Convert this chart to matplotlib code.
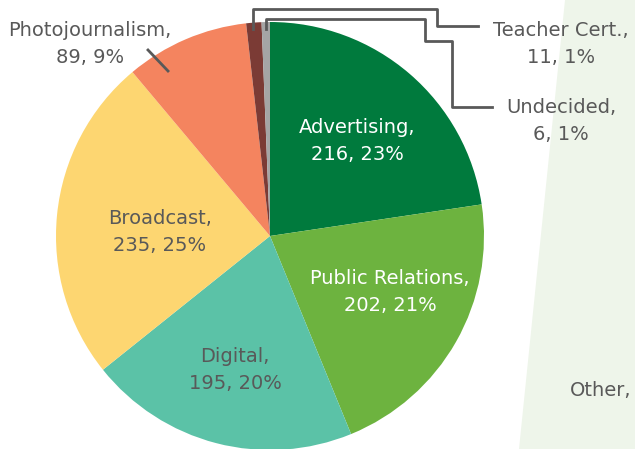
import matplotlib
matplotlib.use('Agg')
import matplotlib.pyplot as plt
from matplotlib.patches import Polygon

W, H = 635, 449

majors = ['Advertising', 'Public Relations', 'Digital', 'Broadcast',
          'Photojournalism', 'Teacher Cert.', 'Undecided']
counts = [216, 202, 195, 235, 89, 11, 6]
colors = ['#007A3D', '#6DB33F', '#5BC2A7', '#FDD671', '#F4845F', '#7B3B35', '#A5A5A5']
label_pos = [(357, 141), (390, 292), (235, 370), (160, 232), (90, 44), (561, 44), (561, 121)]
label_col = ['white', 'white', '#595959', '#595959', '#595959', '#595959', '#595959']

plt.rcParams['font.family'] = ['DejaVu Sans']

fig = plt.figure(figsize=(W / 100, H / 100), dpi=100)
ax = fig.add_axes([0, 0, 1, 1])

def py(y):
    # pixel row -> data y
    return H - y

# light green panel at right
ax.add_patch(Polygon([(565, py(0)), (W, py(0)), (W, py(H)), (519, py(H))],
                     closed=True, facecolor='#EEF5EA', edgecolor='none', zorder=0))
ax.text(570, py(390), 'Other,', fontsize=14, color='#595959', ha='left', va='center')

ax.pie(counts, colors=colors, startangle=90, counterclock=False,
       center=(270, py(236)), radius=214, frame=True,
       wedgeprops=dict(linewidth=0))
ax.set_xlim(0, W)
ax.set_ylim(0, H)
ax.set_aspect('equal')
ax.axis('off')

total = sum(counts)
for name, c, (x, y), col in zip(majors, counts, label_pos, label_col):
    pct = round(100 * c / total)
    ax.text(x, py(y), f'{name},\n{c}, {pct}%', fontsize=14, color=col,
            ha='center', va='center', linespacing=1.55, zorder=5)

# leader lines
lc = '#595959'
ax.plot([148, 168], [py(50), py(71)], color=lc, lw=2, zorder=4)
ax.plot([253, 253, 437, 437, 478], [py(29), py(9), py(9), py(26), py(26)],
        color=lc, lw=2, zorder=4)
ax.plot([266, 266, 425, 425, 452, 452, 492],
        [py(29), py(19), py(19), py(41), py(41), py(107), py(107)],
        color=lc, lw=2, zorder=4)

fig.savefig('out.png', dpi=100)
